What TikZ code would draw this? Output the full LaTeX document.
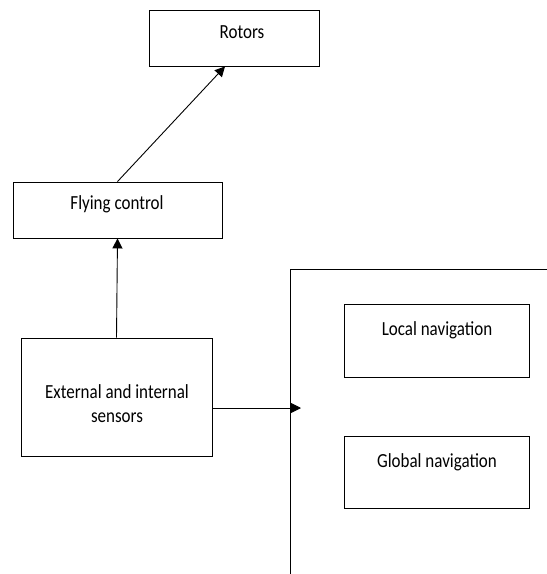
\documentclass[tikz,border=0pt]{standalone}
\usepackage{fontspec}
\setmainfont[FakeStretch=0.85]{Carlito}
\usetikzlibrary{arrows.meta}
\begin{document}
\begin{tikzpicture}[x=1pt,y=-1pt,
  block/.style={draw,line width=0.9pt,inner sep=0pt},
  lbl/.style={font=\fontsize{20}{24}\selectfont,align=center,inner sep=0pt},
  flow/.style={line width=0.9pt,-{Triangle[length=10pt,width=10pt]}}]
  \useasboundingbox (0,0) rectangle (547,574);
  % boxes
  \node[block,minimum width=170,minimum height=56] (rotors) at (234,38) {};
  \node[block,minimum width=209,minimum height=56] (flying) at (117.5,210) {};
  \node[block,minimum width=191,minimum height=118] (sensors) at (116.5,397) {};
  \node[block,minimum width=185,minimum height=73] (local) at (436.5,340.5) {};
  \node[block,minimum width=185,minimum height=72] (global) at (436.5,472) {};
  % texts
  \node[lbl] (rotorstext) at (242,32) {Rotors};
  \node[lbl] (flyingtext) at (117,204) {Flying control};
  \node[lbl] (sensorstext) at (117,404) {External and internal\\[0pt]sensors};
  \node[lbl] (localtext) at (437,330) {Local navigation};
  \node[lbl] (globaltext) at (437,462) {Global navigation};
  % navigation frame
  \draw[line width=0.9pt] (290,574) -- (290,269) -- (547,269);
  % arrows
  \coordinate (navin) at (301,408);
  \draw[flow] (flying.north) -- ([xshift=-9pt]rotors.south);
  \draw[flow] (sensors.north) -- (flying.south);
  \draw[flow] (sensors.east |- navin) -- (navin);
\end{tikzpicture}
\end{document}
